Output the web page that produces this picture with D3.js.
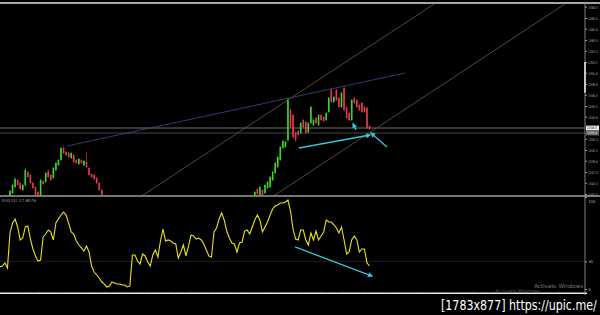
<!DOCTYPE html>
<html>
<head>
<meta charset="utf-8">
<script src="https://cdn.jsdelivr.net/npm/d3@7"></script>
<style>
body { margin: 0; background: #000; }
svg { display: block; }
.ax text { fill: #b5b5b5; font: 3.8px "DejaVu Sans", sans-serif; }
.ax path, .ax line { stroke: #999; }
</style>
</head>
<body>
<svg id="chart" width="600" height="315"></svg>
<script>
// candles as [open, high, low, close], index = bar number
const segAStart = 0
const segA = [
  [1321, 1322.5, 1320.5, 1322.25], [1321.75, 1324, 1321.5, 1323.75], [1323.25, 1325.75, 1323, 1325.25],
  [1325, 1325.25, 1323.5, 1323.75], [1324.25, 1324.5, 1322.5, 1322.75], [1322.5, 1324, 1322.25, 1323.75],
  [1323.75, 1328, 1323.5, 1327.5], [1327, 1327.25, 1325.5, 1325.75], [1326.25, 1326.5, 1324, 1324.25],
  [1324.25, 1324.5, 1322.75, 1323], [1323.25, 1323.5, 1320.5, 1321], [1322, 1322.25, 1320, 1320.5],
  [1321, 1325.25, 1320.5, 1325], [1324.75, 1325, 1323.75, 1324], [1324.5, 1327, 1324.25, 1326.75],
  [1327.25, 1327.75, 1325.5, 1325.75], [1326.25, 1326.5, 1324.75, 1325], [1325.5, 1328.25, 1325.25, 1328],
  [1327.5, 1329.5, 1327.25, 1329.25], [1328.75, 1330.25, 1328.5, 1330], [1330, 1333.25, 1329.75, 1333],
  [1333, 1333.5, 1331.5, 1331.75], [1332, 1332.25, 1331, 1331.25], [1331.75, 1332, 1330.5, 1330.75],
  [1330.5, 1332, 1330.25, 1331.75], [1331.25, 1331.5, 1329.25, 1329.5], [1330, 1330.25, 1329, 1329.25],
  [1329, 1330.5, 1328.75, 1330.25], [1330, 1330.25, 1329, 1329.25], [1328.75, 1330, 1328.5, 1329.75],
  [1329.5, 1332, 1328, 1328.25], [1328, 1328.25, 1326, 1326.25], [1326.5, 1326.75, 1325.5, 1325.75],
  [1326.25, 1326.5, 1325, 1325.25], [1325.5, 1325.75, 1324, 1324.25], [1324.25, 1324.5, 1322.25, 1322.5],
  [1322.5, 1322.75, 1320.25, 1320.75]
]
const segBStart = 96
const segB = [
  [1321, 1322.25, 1320.5, 1322], [1322.75, 1323, 1321.25, 1321.5], [1321.25, 1323.5, 1321, 1323.25],
  [1322.5, 1322.75, 1320.75, 1321], [1321.75, 1324, 1321.5, 1323.75], [1323, 1324.75, 1322.75, 1324.5],
  [1323.25, 1326, 1323, 1325.75], [1325, 1327.25, 1324.75, 1327], [1326.75, 1329.5, 1326.5, 1329.25],
  [1328.25, 1331, 1328, 1330.75], [1330, 1333.5, 1329.75, 1333.25], [1333, 1335, 1332.75, 1334.75],
  [1333.25, 1334.75, 1333, 1334.5], [1335, 1345.5, 1334.5, 1345], [1342.5, 1343, 1338, 1338.25],
  [1341.25, 1341.5, 1335.25, 1335.75], [1336.75, 1337.25, 1334.5, 1335], [1337.25, 1337.5, 1336, 1336.25],
  [1336.75, 1339.5, 1336.5, 1339.25], [1340, 1340.25, 1338, 1338.25], [1339.5, 1339.75, 1336.5, 1336.75],
  [1337, 1339.5, 1336.75, 1339.25], [1339.25, 1343.5, 1339, 1343.25], [1338.75, 1340.25, 1338.5, 1340],
  [1340.5, 1340.75, 1339, 1339.25], [1338.75, 1341.5, 1338.5, 1341.25], [1341.25, 1341.5, 1339.75, 1340],
  [1340.75, 1341, 1339.5, 1339.75], [1340, 1342, 1339.75, 1341.75], [1342, 1345.75, 1341.75, 1345.5],
  [1347.5, 1348, 1344.25, 1344.5], [1344.5, 1346, 1344.25, 1345.75], [1347.5, 1347.75, 1344.75, 1345],
  [1345.5, 1345.75, 1343, 1343.25], [1343.25, 1347, 1343, 1346.75], [1348, 1348.5, 1342, 1342.5],
  [1343.25, 1343.5, 1340.25, 1340.5], [1341.75, 1342, 1339.75, 1340], [1340, 1345.25, 1339.75, 1345],
  [1345.5, 1345.75, 1344, 1344.25], [1345, 1345.25, 1343, 1343.25], [1343.75, 1344, 1342.25, 1342.5],
  [1344.25, 1344.5, 1341.75, 1342], [1343.25, 1343.5, 1341.75, 1342], [1343, 1343.25, 1337.75, 1338],
  [1338.5, 1338.75, 1337.5, 1337.75]
]

// RSI(14), one value per bar starting at bar -4
const rsiStart = -4
const rsi = [
  23.9, 25.0, 28.3, 22.8, 60.9, 71.7, 76.1, 67.4, 53.3, 55.4, 67.4, 68.5, 54.3, 43.5, 35.9, 30.4,
  31.5, 56.5, 59.8, 64.1, 62.0, 53.3, 71.7, 76.1, 80.4, 83.7, 80.4, 71.7, 62.0, 59.8, 52.2, 47.8,
  44.6, 41.3, 46.7, 40.2, 25.0, 18.5, 15.2, 12.0, 7.6, 5.4, 2.2, 3.3, 7.6, 6.5, 5.4, 5.4,
  4.3, 4.3, 2.2, 3.3, 37.0, 37.0, 30.4, 27.2, 38.0, 35.9, 29.3, 25.0, 37.0, 42.4, 34.8, 52.2,
  65.2, 52.2, 53.3, 52.2, 50.0, 48.9, 33.7, 40.2, 47.8, 35.9, 46.7, 58.7, 57.6, 54.3, 55.4, 53.3,
  48.9, 42.4, 35.9, 34.8, 62.0, 66.3, 76.1, 82.6, 75.0, 63.0, 55.4, 50.0, 48.9, 40.2, 50.0, 51.1,
  63.0, 64.1, 59.8, 67.4, 75.0, 80.4, 75.0, 62.0, 67.4, 72.8, 80.4, 87.0, 90.2, 91.3, 93.5, 93.5,
  94.6, 96.7, 84.8, 65.2, 54.3, 53.3, 64.1, 64.1, 53.3, 47.8, 60.9, 53.3, 63.0, 53.3, 57.6, 62.0,
  75.0, 72.8, 72.8, 69.6, 66.3, 60.9, 67.4, 53.3, 38.0, 40.2, 53.3, 57.6, 53.3, 40.2, 43.5, 43.5,
  28.3, 25.0
]

const priceTicks = [1368.3, 1365.5, 1362.8, 1360.0, 1357.3, 1354.5, 1351.8, 1349.0, 1346.3, 1343.5,
  1340.8, 1335.3, 1332.5, 1329.8, 1327.0, 1324.3, 1321.5]
const rsiTicks = [100, 30, 0]
const rsiLevel = 30
const bidPrice = 1338.0
const askPrice = 1336.75

// drawn objects, in [bar, price]
const blueTrend = [[22.35, 1333.5], [154.9, 1351.75]]
const channelLines = [
  [[51, 1320.75], [166.3, 1369]],
  [[102.7, 1320.75], [217.6, 1369]]
]
const priceArrows = [
  [[113.3, 1333], [141.2, 1336.25]],
  [[135.7, 1337.5], [134.5, 1339.1]],
  [[147.8, 1333.25], [141.6, 1336.75]]
]
// in [bar, rsi]
const rsiArrow = [[111.8, 45.7], [142, 14.1]]

const svg = d3.select("#chart")
const W = 600, axisX = 585
const main = {top: 4, bottom: 195.5}
const sub = {top: 197, bottom: 292.5}

const x = d3.scaleLinear().domain([0, 226]).range([10, 586.3])
const y = d3.scaleLinear().domain([1321.25, 1370]).range([195, 0])
const ry = d3.scaleLinear().domain([0, 100]).range([289, 197])

const defs = svg.append("defs")
defs.append("clipPath").attr("id", "clipMain").append("rect")
  .attr("x", 0).attr("y", main.top).attr("width", axisX).attr("height", main.bottom - main.top)
defs.append("clipPath").attr("id", "clipSub").append("rect")
  .attr("x", 0).attr("y", sub.top).attr("width", axisX).attr("height", sub.bottom - sub.top)
defs.append("marker").attr("id", "head")
  .attr("viewBox", "0 0 10 10").attr("refX", 8).attr("refY", 5)
  .attr("markerWidth", 4).attr("markerHeight", 4).attr("orient", "auto")
  .append("path").attr("d", "M0,0L10,5L0,10z").attr("fill", "#35c6d8")

svg.append("rect").attr("width", W).attr("height", 315).attr("fill", "#000")

const gm = svg.append("g").attr("clip-path", "url(#clipMain)")

// price lines
gm.selectAll("line.px").data([[bidPrice, "#8a8a8a"], [askPrice, "#555"]]).join("line")
  .attr("x1", 0).attr("x2", axisX)
  .attr("y1", d => y(d[0])).attr("y2", d => y(d[0]))
  .attr("stroke", d => d[1]).attr("stroke-width", 0.8)

const lineGen = d3.line().x(d => x(d[0])).y(d => y(d[1]))
gm.selectAll("path.chan").data(channelLines).join("path")
  .attr("d", lineGen).attr("stroke", "#6e5b38").attr("stroke-width", 0.8).attr("fill", "none")
gm.append("path").attr("d", lineGen(blueTrend))
  .attr("stroke", "#3d4c91").attr("stroke-width", 0.8).attr("fill", "none")

const candles = segA.map((d, i) => ({i: segAStart + i, o: d[0], h: d[1], l: d[2], c: d[3]}))
  .concat(segB.map((d, i) => ({i: segBStart + i, o: d[0], h: d[1], l: d[2], c: d[3]})))
const col = d => d.c >= d.o ? "#3ad82a" : "#e33b52"

const cg = gm.selectAll("g.c").data(candles).join("g")
cg.append("line")
  .attr("x1", d => x(d.i)).attr("x2", d => x(d.i))
  .attr("y1", d => y(d.h)).attr("y2", d => y(d.l))
  .attr("stroke", col).attr("stroke-width", 0.6)
cg.append("rect")
  .attr("x", d => x(d.i) - 0.8).attr("width", 1.6)
  .attr("y", d => y(Math.max(d.o, d.c)))
  .attr("height", d => Math.max(0.6, Math.abs(y(d.o) - y(d.c))))
  .attr("fill", col)

gm.selectAll("path.arr").data(priceArrows).join("path")
  .attr("d", lineGen).attr("stroke", "#35c6d8").attr("stroke-width", 1.3)
  .attr("fill", "none").attr("marker-end", "url(#head)")

// RSI panel
const gs = svg.append("g").attr("clip-path", "url(#clipSub)")
gs.append("line").attr("x1", 0).attr("x2", axisX)
  .attr("y1", ry(rsiLevel)).attr("y2", ry(rsiLevel))
  .attr("stroke", "#26232e").attr("stroke-width", 0.8)
const rsiLine = d3.line().x((d, i) => x(rsiStart + i)).y(d => ry(d))
gs.append("path").attr("d", rsiLine(rsi))
  .attr("stroke", "#ebe21c").attr("stroke-width", 1.1).attr("fill", "none")
gs.append("path").attr("d", d3.line().x(d => x(d[0])).y(d => ry(d[1]))(rsiArrow))
  .attr("stroke", "#35c6d8").attr("stroke-width", 1.3).attr("fill", "none")
  .attr("marker-end", "url(#head)")

svg.append("text").attr("x", 2).attr("y", 201.5).text("RSI(14) 27.8076")
  .attr("fill", "#9a9a9a").style("font", "4.2px 'DejaVu Sans', sans-serif")

// frame
svg.append("line").attr("x1", 0).attr("x2", W).attr("y1", 3).attr("y2", 3)
  .attr("stroke", "#dcdcdc").attr("stroke-width", 1.4)
svg.append("line").attr("x1", 0).attr("x2", W).attr("y1", 196).attr("y2", 196)
  .attr("stroke", "#9c9c9c").attr("stroke-width", 1.3)
svg.append("line").attr("x1", 0).attr("x2", 587).attr("y1", 293.2).attr("y2", 293.2)
  .attr("stroke", "#e8e8e8").attr("stroke-width", 1.6)

// axes
const ya = svg.append("g").attr("class", "ax").attr("transform", `translate(${axisX},0)`)
  .call(d3.axisRight(y).tickValues(priceTicks).tickFormat(d3.format(".1f")).tickSize(2).tickPadding(1.2))
ya.select(".domain").remove()
ya.selectAll("text").attr("textLength", 9.5).attr("lengthAdjust", "spacingAndGlyphs")
const ra = svg.append("g").attr("class", "ax").attr("transform", `translate(${axisX},0)`)
  .call(d3.axisRight(ry).tickValues(rsiTicks).tickFormat(d3.format("d")).tickSize(2).tickPadding(1.2))
ra.select(".domain").remove()
ra.selectAll("text").attr("dy", d => d === 100 ? "1.5em" : "0.32em")
svg.append("line").attr("x1", axisX).attr("x2", axisX).attr("y1", 3).attr("y2", 295)
  .attr("stroke", "#a0a0a0").attr("stroke-width", 0.8)
svg.append("line").attr("x1", axisX).attr("x2", axisX).attr("y1", y(1354.5)).attr("y2", y(1346.8))
  .attr("stroke", "#f0f0f0").attr("stroke-width", 1.5)

// time ticks on bottom frame
svg.append("g").selectAll("line").data(d3.range(3, 226, 8.5)).join("line")
  .attr("x1", d => x(d)).attr("x2", d => x(d))
  .attr("y1", 291.5).attr("y2", 293).attr("stroke", "#777").attr("stroke-width", 0.6)

// current price boxes
const boxes = [[bidPrice, "#f2f2f2", "#000"], [askPrice, "#6a6a6a", "#ddd"]]
const bx = svg.append("g").selectAll("g").data(boxes).join("g")
bx.append("rect").attr("x", axisX + 1).attr("y", d => y(d[0]) - 2.4)
  .attr("width", 13).attr("height", 4.8).attr("fill", d => d[1])
bx.append("text").attr("x", axisX + 2).attr("y", d => y(d[0]) + 1.4)
  .text(d => d3.format(".1f")(d[0])).attr("fill", d => d[2])
  .attr("textLength", 10).attr("lengthAdjust", "spacingAndGlyphs")
  .style("font", "3.8px 'DejaVu Sans', sans-serif")

// watermark and caption
svg.append("text").attr("x", 583).attr("y", 288).attr("text-anchor", "end")
  .text("Activate Windows").attr("fill", "#7a7a7a").style("font", "5.5px 'DejaVu Sans', sans-serif")
svg.append("text").attr("x", 540).attr("y", 292.5).attr("text-anchor", "end")
  .text("Activate Windows").attr("fill", "#5c5c5c").style("font", "5px 'DejaVu Sans', sans-serif")

// caption squeezed horizontally to the width it has in the screenshot
const cap = svg.append("g")
const capText = cap.append("text").attr("x", 0).attr("y", 0)
  .text("[1783x877] https://upic.me/").attr("fill", "#fff")
  .style("font", "14px 'DejaVu Sans', sans-serif")
const sx = 156 / capText.node().getComputedTextLength()
cap.attr("transform", `translate(441,310) scale(${sx},1)`)
</script>
</body>
</html>
